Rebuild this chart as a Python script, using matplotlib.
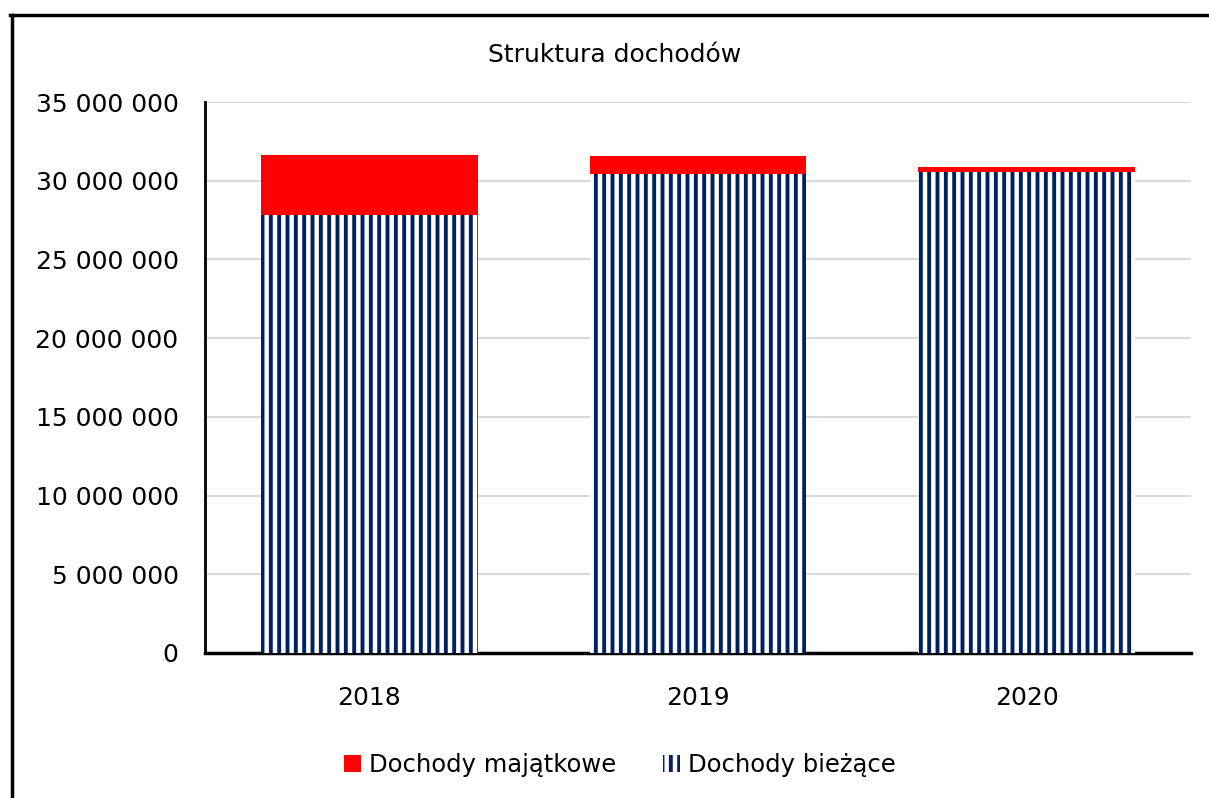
import matplotlib
matplotlib.use("Agg")
import matplotlib.pyplot as plt
from matplotlib.ticker import FuncFormatter, MultipleLocator
from matplotlib.lines import Line2D
from matplotlib.patches import Patch

years = ["2018", "2019", "2020"]
dochody_biezace = [27830000, 30430000, 30540000]
dochody_majatkowe = [3810000, 1140000, 350000]
title = "Struktura dochodów"
labels = ["Dochody majątkowe", "Dochody bieżące"]

navy = "#002060"
red = "#FF0000"

plt.rcParams["font.family"] = ["DejaVu Sans"]
plt.rcParams["hatch.linewidth"] = 2.8
plt.rcParams["hatch.color"] = navy

fig = plt.figure(figsize=(12.09, 7.98), dpi=100)
ax = fig.add_axes([205 / 1209, 1 - 653 / 798, (1191 - 205) / 1209, (653 - 102) / 798])

x = range(len(years))
b1 = ax.bar(x, dochody_biezace, width=0.66, color="white", hatch="||",
            edgecolor=navy, linewidth=0, zorder=3)
b2 = ax.bar(x, dochody_majatkowe, bottom=dochody_biezace, width=0.66,
            color=red, linewidth=0, zorder=3)

ax.set_ylim(0, 35000000)
ax.set_xlim(-0.5, 2.5)
ax.yaxis.set_major_locator(MultipleLocator(5000000))
ax.yaxis.set_major_formatter(FuncFormatter(lambda v, p: f"{int(v):,}".replace(",", " ")))
ax.set_xticks(list(x))
ax.set_xticklabels(years)
ax.tick_params(axis="both", length=0, labelsize=18, colors="black")
ax.tick_params(axis="y", pad=19)
ax.tick_params(axis="x", pad=24)
ax.grid(axis="y", color="#d9d9d9", linewidth=1.5, zorder=0)
ax.set_axisbelow(True)
for s in ["top", "right"]:
    ax.spines[s].set_visible(False)
ax.spines["left"].set_linewidth(2)
ax.spines["bottom"].set_linewidth(2.5)

fig.text(615 / 1209, 1 - 55 / 798, title, ha="center", va="center", fontsize=18)

handles = [Patch(facecolor=red, edgecolor="none"),
           Patch(facecolor="white", hatch="||", edgecolor=navy, linewidth=0)]
fig.legend(handles, labels, loc="center", bbox_to_anchor=(620 / 1209, 1 - 765 / 798),
           ncol=2, frameon=False, fontsize=17.5, handlelength=0.7, handleheight=0.7,
           handletextpad=0.35, columnspacing=1.9)

fig.add_artist(Line2D([11.5 / 1209, 11.5 / 1209], [0, 1 - 15 / 798], color="black", linewidth=2.5,
                      transform=fig.transFigure))
fig.add_artist(Line2D([10 / 1209, 1], [1 - 15 / 798, 1 - 15 / 798], color="black", linewidth=2.5,
                      transform=fig.transFigure))

fig.savefig("out.png", dpi=100)
